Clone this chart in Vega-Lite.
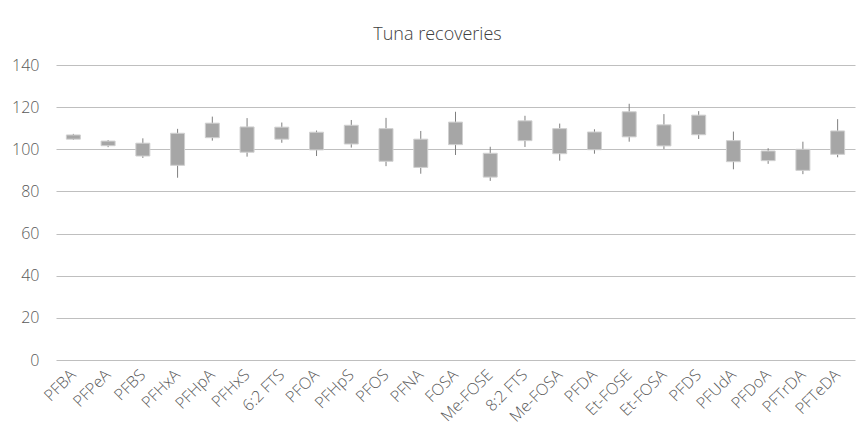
{
  "$schema": "https://vega.github.io/schema/vega-lite/v6.json",
  "width": 799,
  "height": 295,
  "autosize": {"type": "none"},
  "padding": {"left": 56, "top": 65, "right": 2, "bottom": 85},
  "background": "white",
  "title": {
    "text": "Tuna recoveries",
    "font": "Open Sans",
    "fontSize": 18,
    "fontWeight": 300,
    "color": "#404040",
    "anchor": "middle",
    "dx": -18,
    "offset": 13
  },
  "config": {
    "view": {"stroke": null},
    "font": "Open Sans"
  },
  "data": {
    "values": [
      {"name": "PFBA", "low": 104.4, "boxLow": 104.8, "boxHigh": 106.8, "high": 107.3},
      {"name": "PFPeA", "low": 101.0, "boxLow": 101.7, "boxHigh": 103.9, "high": 104.4},
      {"name": "PFBS", "low": 95.9, "boxLow": 96.8, "boxHigh": 102.9, "high": 105.2},
      {"name": "PFHxA", "low": 86.5, "boxLow": 92.4, "boxHigh": 107.6, "high": 109.7},
      {"name": "PFHpA", "low": 104.1, "boxLow": 105.5, "boxHigh": 112.4, "high": 115.5},
      {"name": "PFHxS", "low": 96.5, "boxLow": 98.6, "boxHigh": 110.6, "high": 114.8},
      {"name": "6:2 FTS", "low": 103.1, "boxLow": 104.8, "boxHigh": 110.5, "high": 112.7},
      {"name": "PFOA", "low": 96.8, "boxLow": 99.7, "boxHigh": 108.1, "high": 108.9},
      {"name": "PFHpS", "low": 100.8, "boxLow": 102.5, "boxHigh": 111.4, "high": 113.9},
      {"name": "PFOS", "low": 92.0, "boxLow": 94.3, "boxHigh": 109.8, "high": 114.9},
      {"name": "PFNA", "low": 88.4, "boxLow": 91.4, "boxHigh": 104.8, "high": 108.7},
      {"name": "FOSA", "low": 97.3, "boxLow": 102.2, "boxHigh": 112.9, "high": 117.8},
      {"name": "Me-FOSE", "low": 85.0, "boxLow": 86.8, "boxHigh": 98.1, "high": 101.2},
      {"name": "8:2 FTS", "low": 101.1, "boxLow": 104.1, "boxHigh": 113.5, "high": 115.9},
      {"name": "Me-FOSA", "low": 94.6, "boxLow": 97.9, "boxHigh": 109.8, "high": 112.2},
      {"name": "PFDA", "low": 97.9, "boxLow": 99.8, "boxHigh": 108.2, "high": 109.5},
      {"name": "Et-FOSE", "low": 103.6, "boxLow": 105.9, "boxHigh": 117.8, "high": 121.6},
      {"name": "Et-FOSA", "low": 100.1, "boxLow": 101.6, "boxHigh": 111.6, "high": 116.7},
      {"name": "PFDS", "low": 104.9, "boxLow": 106.9, "boxHigh": 116.2, "high": 118.1},
      {"name": "PFUdA", "low": 90.5, "boxLow": 94.1, "boxHigh": 104.1, "high": 108.4},
      {"name": "PFDoA", "low": 93.1, "boxLow": 94.6, "boxHigh": 99.2, "high": 100.5},
      {"name": "PFTrDA", "low": 88.2, "boxLow": 90.0, "boxHigh": 100.0, "high": 103.6},
      {"name": "PFTeDA", "low": 96.2, "boxLow": 97.6, "boxHigh": 108.7, "high": 114.3}
    ]
  },
  "encoding": {
    "x": {
      "field": "name",
      "type": "nominal",
      "sort": null,
      "scale": {"paddingInner": 0, "paddingOuter": 0},
      "axis": {
        "title": null,
        "labelAngle": -45,
        "labelAlign": "right",
        "labelBaseline": "middle",
        "labelFont": "Open Sans",
        "labelFontWeight": 300,
        "labelFontSize": 16,
        "labelColor": "#595959",
        "labelPadding": 12,
        "labelOverlap": false,
        "ticks": false,
        "domain": false,
        "grid": false
      }
    }
  },
  "layer": [
    {
      "mark": {"type": "rule", "color": "#7f7f7f", "strokeWidth": 1},
      "encoding": {
        "y": {
          "field": "low",
          "type": "quantitative",
          "scale": {"domain": [0, 140]},
          "axis": {
            "title": null,
            "values": [0, 20, 40, 60, 80, 100, 120, 140],
            "labelFont": "Open Sans",
            "labelFontWeight": 300,
            "labelFontSize": 16,
            "labelColor": "#595959",
            "labelPadding": 17,
            "ticks": false,
            "domain": false,
            "grid": true,
            "gridColor": "#bfbfbf",
            "gridWidth": 1
          }
        },
        "y2": {"field": "high"}
      }
    },
    {
      "mark": {"type": "bar", "size": 14, "color": "#a6a6a6", "stroke": "#d0d0d0", "strokeWidth": 1},
      "encoding": {
        "y": {"field": "boxLow", "type": "quantitative"},
        "y2": {"field": "boxHigh"}
      }
    }
  ]
}
